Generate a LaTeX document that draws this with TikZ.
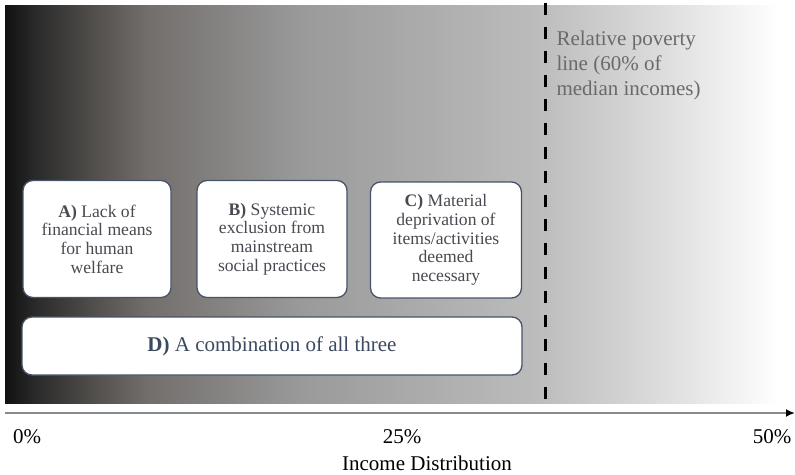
\documentclass[tikz,border=0pt]{standalone}
\usepackage{fontspec}
\setmainfont{Liberation Serif}
\usetikzlibrary{arrows.meta}

\definecolor{boxtext}{HTML}{474A50}
\definecolor{dtext}{HTML}{3B4A60}
\definecolor{boxline}{HTML}{46536A}
\definecolor{povgray}{HTML}{6A6A6A}
\definecolor{axisgray}{HTML}{8A8A8A}
% degrade du fond (partie utile entre 25bp et 75bp)
\definecolor{g0}{HTML}{111111}
\definecolor{g1}{HTML}{2B2B2B}
\definecolor{g2}{HTML}{55524F}
\definecolor{g3}{HTML}{726E6C}
\definecolor{g4}{HTML}{999999}
\definecolor{g5}{HTML}{BDBDBD}
\definecolor{g6}{HTML}{DADADA}
\pgfdeclarehorizontalshading{revenus}{100bp}{%
  color(0bp)=(g0); color(25bp)=(g0); color(27bp)=(g1);
  color(31bp)=(g2); color(34bp)=(g3); color(43.5bp)=(g4);
  color(59bp)=(g5); color(66bp)=(g6); color(74bp)=(white);
  color(100bp)=(white)}

\tikzset{
  cadre/.style={draw=boxline,line width=1.3pt,fill=white,rounded corners=10pt,
    text=boxtext,align=center,inner sep=0pt,
    font=\fontsize{17.6}{18.7}\selectfont},
  legende/.style={font=\fontsize{21}{25}\selectfont}
}

\begin{document}
\begin{tikzpicture}[x=1pt,y=-1pt]
\useasboundingbox (0,0) rectangle (795,474);

\shade[shading=revenus] (5,5) rectangle (795,403);

% seuil de pauvrete
\coordinate (seuilH) at (545,3);
\coordinate (seuilB) at (545,402);
\draw[line width=3pt,dash pattern=on 12pt off 12pt] (seuilH) -- (seuilB);
\node[legende,text=povgray,align=left,anchor=north west] (seuil) at (553,27)
  {Relative poverty\\line (60\% of\\median incomes)};

% les trois definitions
\node[cadre,minimum width=148pt,minimum height=117pt] (A) at (97,239)
  {\textbf{A)} Lack of\\financial means\\for human\\welfare};
\node[cadre,minimum width=150pt,minimum height=117pt] (B) at (272,239)
  {\textbf{B)} Systemic\\exclusion from\\mainstream\\social practices};
\node[cadre,minimum width=151pt,minimum height=116pt] (C) at (446,240)
  {\textbf{C)} Material\\deprivation of\\items/activities\\deemed\\necessary};
\node[cadre,legende,text=dtext,minimum width=500pt,minimum height=58pt] (D) at (272,346)
  {\textbf{D)} A combination of all three};

% axe des revenus
\coordinate (axeG) at (5,413);
\coordinate (axeD) at (795,413);
\draw[axisgray,line width=2pt,-{Latex[black,length=9pt,width=8pt]}] (axeG) -- (axeD);
\node[legende] (p0) at (27,437) {0\%};
\node[legende] (p25) at (402,437) {25\%};
\node[legende,anchor=east] (p50) at (795,437) {50\%};
\node[legende] (titre) at (427,463) {Income Distribution};

\end{tikzpicture}
\end{document}
